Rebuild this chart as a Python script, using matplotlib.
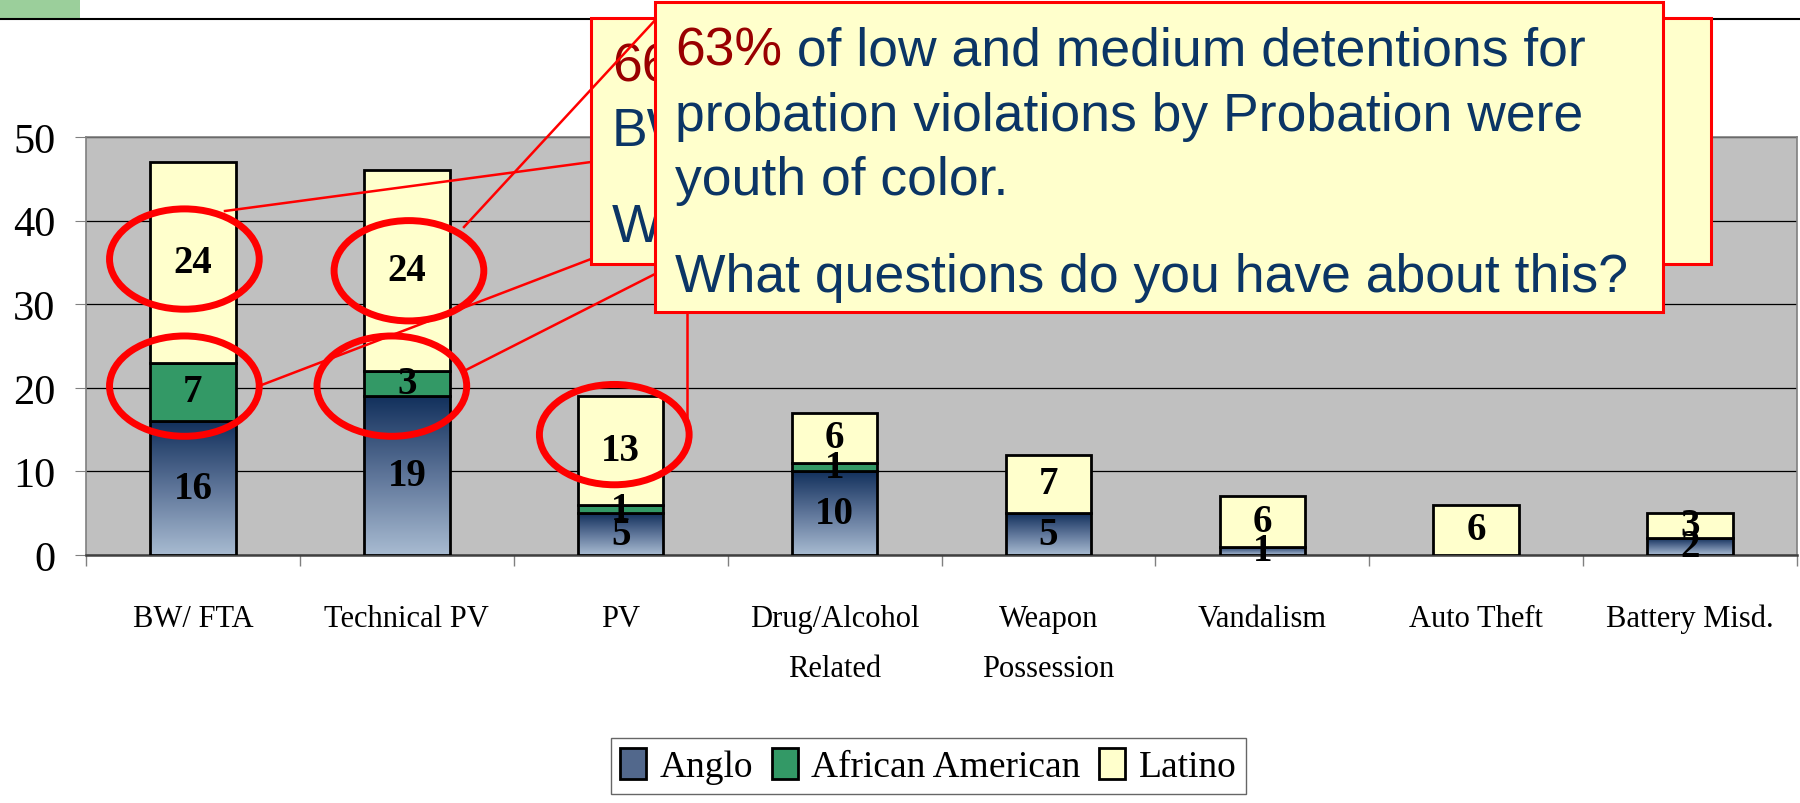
import matplotlib
matplotlib.use('Agg')
import matplotlib.pyplot as plt
import numpy as np
from matplotlib.patches import Rectangle, Ellipse, Patch
from matplotlib.lines import Line2D
from matplotlib.colors import LinearSegmentedColormap

# data
categories = ['BW/ FTA', 'Technical PV', 'PV', 'Drug/Alcohol\nRelated',
              'Weapon\nPossession', 'Vandalism', 'Auto Theft', 'Battery Misd.']
anglo = [16, 19, 5, 10, 5, 1, 0, 2]
african_american = [7, 3, 1, 1, 0, 0, 0, 0]
latino = [24, 24, 13, 6, 7, 6, 6, 3]
series_names = ['Anglo', 'African American', 'Latino']

# segments circled in red: (category index, series index)
circled = [(0, 2), (1, 2), (0, 1), (1, 1), (2, 2)]
# small hand nudges of the circles (x in categories, y in counts)
circle_nudge = [(-0.04, 0.4), (0.01, 0.0), (-0.04, 0.7), (-0.07, -0.3), (-0.03, 1.9)]

W, H = 1800, 804
plt.rcParams['font.family'] = ['Liberation Serif', 'DejaVu Serif']


def fx(px):
    return px / W


def fy(py):
    return 1 - py / H


fig = plt.figure(figsize=(18, 8.04), dpi=100)
ax = fig.add_axes([fx(86), fy(556), (1797 - 86) / W, (556 - 138) / H])
ax.set_facecolor('#C0C0C0')

x = np.arange(len(categories))
width = 0.4
colors = ['none', '#339966', '#FFFFCC']
series = [anglo, african_american, latino]
bottoms = np.zeros(len(x))
containers = []
for vals, col in zip(series, colors):
    bc = ax.bar(x, vals, width, bottom=bottoms, facecolor=col,
                edgecolor='black', linewidth=2, zorder=3)
    containers.append(bc)
    bottoms += np.array(vals)

# gradient fill for the Anglo segments
anglo_cmap = LinearSegmentedColormap.from_list('anglo', ['#12305C', '#5E7599', '#A8BBD1'])
grad = np.linspace(0, 1, 256).reshape(-1, 1)
for rect in containers[0]:
    h = rect.get_height()
    if h <= 0:
        continue
    ax.imshow(grad, cmap=anglo_cmap, aspect='auto', zorder=2.9,
              extent=[rect.get_x(), rect.get_x() + rect.get_width(),
                      rect.get_y(), rect.get_y() + h])

ax.set_xlim(-0.5, len(categories) - 0.5)
ax.set_ylim(0, 50)

# value labels
for bc, vals in zip(containers, series):
    ax.bar_label(bc, labels=[str(v) if v > 0 else '' for v in vals],
                 label_type='center', fontsize=28, fontweight='bold', zorder=5)

# axes styling
ax.set_yticks(range(0, 51, 10))
ax.yaxis.grid(True, color='black', linewidth=0.9)
ax.set_axisbelow(True)
ax.tick_params(axis='y', labelsize=30.5, length=8, pad=14, color='#808080')
ax.set_xticks(np.arange(-0.5, len(categories), 1))
ax.set_xticklabels([])
ax.set_xticks(x, minor=True)
ax.set_xticklabels(categories, minor=True)
ax.tick_params(axis='x', which='major', length=8, color='#808080', width=1)
ax.tick_params(axis='x', which='minor', length=0, pad=35, labelsize=22)
for lab in ax.get_xticklabels(minor=True):
    lab.set_linespacing(1.95)
for side in ['top', 'right', 'left']:
    ax.spines[side].set_color('#808080')
    ax.spines[side].set_linewidth(1.2)
ax.spines['bottom'].set_color('#404040')
ax.spines['bottom'].set_linewidth(1.8)

# red circles
for (ci, si), (dx, dy) in zip(circled, circle_nudge):
    rect = containers[si][ci]
    cx = rect.get_x() + rect.get_width() / 2 + dx
    cy = rect.get_y() + rect.get_height() / 2 + dy
    ax.add_patch(Ellipse((cx, cy), 0.70, 12, fill=False, edgecolor='red',
                         linewidth=5, zorder=6, clip_on=False))

# header decoration
fig.add_artist(Rectangle((0, fy(19)), fx(80), 19 / H, transform=fig.transFigure,
                         facecolor='#9BCF9B', edgecolor='none', zorder=1))
fig.add_artist(Line2D([0, 1], [fy(20), fy(20)], transform=fig.transFigure,
                      color='black', linewidth=1.5, zorder=1))

# connector lines (figure pixels)
red = '#FF0000'
low_lines = [((591, 163), (225, 212)), ((591, 260), (259, 387)),
             ((655, 275), (464, 372)), ((687, 313), (687, 418))]
for (x0, y0), (x1, y1) in low_lines:
    fig.add_artist(Line2D([fx(x0), fx(x1)], [fy(y0), fy(y1)], transform=fig.transFigure,
                          color=red, linewidth=1.8, zorder=9))

# back callout box
fig.add_artist(Rectangle((fx(591), fy(265)), (1711 - 591) / W, (265 - 19) / H,
                         transform=fig.transFigure, facecolor='#FFFFCC',
                         edgecolor=red, linewidth=2.2, zorder=10))
sans = ['Liberation Sans', 'DejaVu Sans']
navy = '#0B3565'
dark_red = '#990000'
fs = 38.5
fig.text(fx(612), fy(82), '66%', color=dark_red, fontsize=fs, family=sans, zorder=11)
fig.text(fx(612), fy(145), 'BW/FTA', color=navy, fontsize=fs, family=sans, zorder=11)
fig.text(fx(612), fy(242), 'What', color=navy, fontsize=fs, family=sans, zorder=11)

fig.add_artist(Line2D([fx(670), fx(464)], [fy(5), fy(228)], transform=fig.transFigure,
                      color=red, linewidth=1.8, zorder=12))

# front callout box
fig.add_artist(Rectangle((fx(655), fy(313)), (1663 - 655) / W, (313 - 3) / H,
                         transform=fig.transFigure, facecolor='#FFFFCC',
                         edgecolor=red, linewidth=2.2, zorder=13))
t = fig.text(fx(675), fy(66), '63%', color=dark_red, fontsize=fs, family=sans, zorder=14)
fig.canvas.draw()
bb = t.get_window_extent()
fig.text(bb.x1 / W, fy(66), ' of low and medium detentions for', color=navy,
         fontsize=fs, family=sans, zorder=14)
fig.text(fx(675), fy(131), 'probation violations by Probation were', color=navy,
         fontsize=fs, family=sans, zorder=14)
fig.text(fx(675), fy(195), 'youth of color.', color=navy, fontsize=fs, family=sans, zorder=14)
fig.text(fx(675), fy(292), 'What questions do you have about this?', color=navy,
         fontsize=fs, family=sans, zorder=14)

# legend
handles = [Patch(facecolor='#52688C', edgecolor='black', linewidth=2),
           Patch(facecolor=colors[1], edgecolor='black', linewidth=2),
           Patch(facecolor=colors[2], edgecolor='black', linewidth=2)]
leg = fig.legend(handles, series_names, loc='center', bbox_to_anchor=(fx(928), fy(767)),
                 ncol=3, fontsize=27, frameon=True, fancybox=False, edgecolor='#404040',
                 handlelength=0.7, handleheight=0.9, handletextpad=0.35,
                 columnspacing=0.5, borderpad=0.25, borderaxespad=0)
leg.get_frame().set_linewidth(1)

fig.savefig('out.png', dpi=100)
